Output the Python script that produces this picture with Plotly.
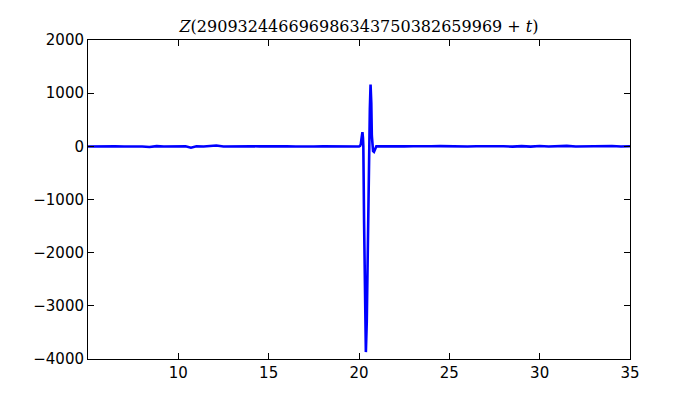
import plotly.graph_objects as go

# Riemann Z values (t offset, Z value)
t_left = [5.0, 5.5, 6.0, 6.5, 7.0, 7.5, 8.0, 8.4, 8.8, 9.2, 9.6, 10.0, 10.4, 10.7, 11.0,
          11.4, 11.8, 12.1, 12.5, 13.0, 13.5, 14.0, 14.5, 15.0, 15.5, 16.0, 16.5, 17.0,
          17.5, 18.0, 18.5, 19.0, 19.5, 19.9]
z_left = [-3, 2, -2, 1, -3, 2, -2, -12, 3, -2, 2, -5, 2, -25, 1, -3, 4, 15, -2, 2, -3, 2,
          -1, 3, -2, 1, -4, 3, -2, 2, -1, 2, -2, 1]

t_spike = [20.0, 20.06, 20.10, 20.14, 20.19, 20.22, 20.24, 20.28, 20.33, 20.38, 20.43,
           20.48, 20.53, 20.57, 20.60, 20.64, 20.68, 20.71, 20.73, 20.78, 20.83, 20.90, 20.96]
z_spike = [-4, 10, 40, 150, 265, 160, 0, -1400, -3300, -3870, -3300, -1900, -600, 0, 700,
           1160, 820, 200, 0, -90, -105, -50, 0]

t_right = [21.2, 21.6, 22.0, 22.5, 23.0, 23.5, 24.0, 24.5, 25.0, 25.5, 26.0, 26.5, 27.0,
           27.5, 28.0, 28.5, 29.0, 29.5, 30.0, 30.5, 31.0, 31.5, 32.0, 32.5, 33.0, 33.5,
           34.0, 34.5, 35.0]
z_right = [2, -2, 3, -1, 2, -3, 1, 4, -2, 2, -3, 2, 6, -2, 1, -5, 3, -6, 5, -4, 2, 8,
           -3, 2, -4, 3, 6, -2, 1]

x_ticks = [10, 15, 20, 25, 30, 35]
y_ticks = [-4000, -3000, -2000, -1000, 0, 1000, 2000]

t_all = t_left + t_spike + t_right
z_all = z_left + z_spike + z_right

fig = go.Figure(go.Scatter(x=t_all, y=z_all, mode="lines",
                           line=dict(color="#0000ff", width=2.6), hoverinfo="skip"))

axis_common = dict(showgrid=False, zeroline=False, showline=True, linecolor="black",
                   linewidth=1, mirror="ticks", ticks="inside", ticklen=6, tickwidth=1,
                   tickcolor="black", tickfont=dict(family="DejaVu Sans", size=15, color="black"))

fig.update_xaxes(range=[5, 35], tickvals=x_ticks, ticktext=[str(v) for v in x_ticks],
                 **axis_common)
fig.update_yaxes(range=[-4000, 2000], tickvals=y_ticks, **axis_common)

fig.update_layout(
    width=700, height=400,
    margin=dict(l=80, r=78, t=32, b=49),
    paper_bgcolor="white", plot_bgcolor="white",
    showlegend=False,
    title=dict(text="<i>Z</i>(290932446696986343750382659969 + <i>t</i>)",
               x=0.5, xref="paper", xanchor="center", y=0.955, yanchor="middle",
               font=dict(family="DejaVu Serif, Liberation Serif, serif", size=16, color="black")),
)

fig.write_html("out.html")
